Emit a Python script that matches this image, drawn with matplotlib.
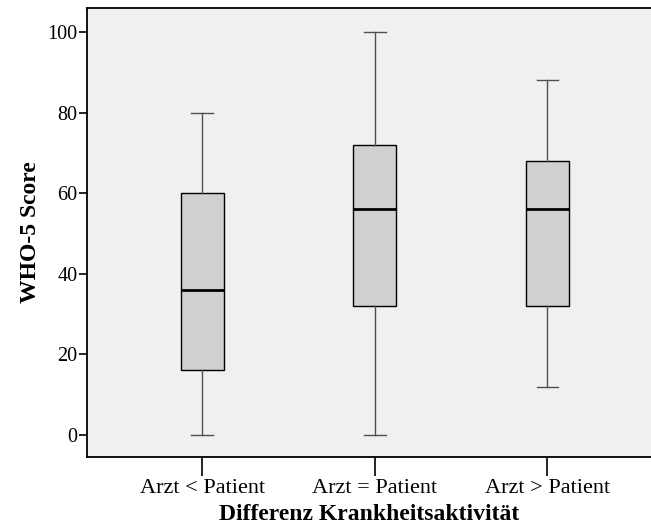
import matplotlib.pyplot as plt

plt.rcParams['font.family'] = ['Liberation Serif', 'DejaVu Serif']

groups = ['Arzt < Patient', 'Arzt = Patient', 'Arzt > Patient']
whisker_low = [0, 0, 12]
q1 = [16, 32, 32]
median = [36, 56, 56]
q3 = [60, 72, 68]
whisker_high = [80, 100, 88]

stats = []
for i, g in enumerate(groups):
    stats.append({'label': g, 'whislo': whisker_low[i], 'q1': q1[i], 'med': median[i],
                  'q3': q3[i], 'whishi': whisker_high[i], 'fliers': []})

fig = plt.figure(figsize=(6.51, 5.26), dpi=100)
ax = fig.add_axes([87 / 651, 69 / 526, 1 - 87 / 651, 449 / 526])
ax.set_facecolor('#f0f0f0')

ax.bxp(stats, positions=[1, 2, 3], widths=0.25, patch_artist=True,
       boxprops=dict(facecolor='#d0d0d0', edgecolor='black', linewidth=1),
       medianprops=dict(color='black', linewidth=2),
       whiskerprops=dict(color='#505050', linewidth=1),
       capprops=dict(color='#505050', linewidth=1),
       capwidths=0.125)

ax.set_xlim(1 / 3, 3.6)
ax.set_ylim(-5.5, 106)
ax.set_yticks([0, 20, 40, 60, 80, 100])
ax.set_xticks([1, 2, 3])
ax.set_xticklabels(groups)
ax.tick_params(axis='y', direction='out', length=6, width=1.2, labelsize=14.5, pad=1)
ax.tick_params(axis='x', direction='out', length=14, width=1.2, labelsize=16, pad=2)

for side in ['left', 'bottom', 'top']:
    ax.spines[side].set_linewidth(1.3)
ax.spines['right'].set_visible(False)

ax.set_xlabel('Differenz Krankheitsaktivität', fontsize=17, fontweight='bold', labelpad=4)
ax.set_ylabel('WHO-5 Score', fontsize=17, fontweight='bold', labelpad=4.5)

fig.savefig('out.png', dpi=100)
